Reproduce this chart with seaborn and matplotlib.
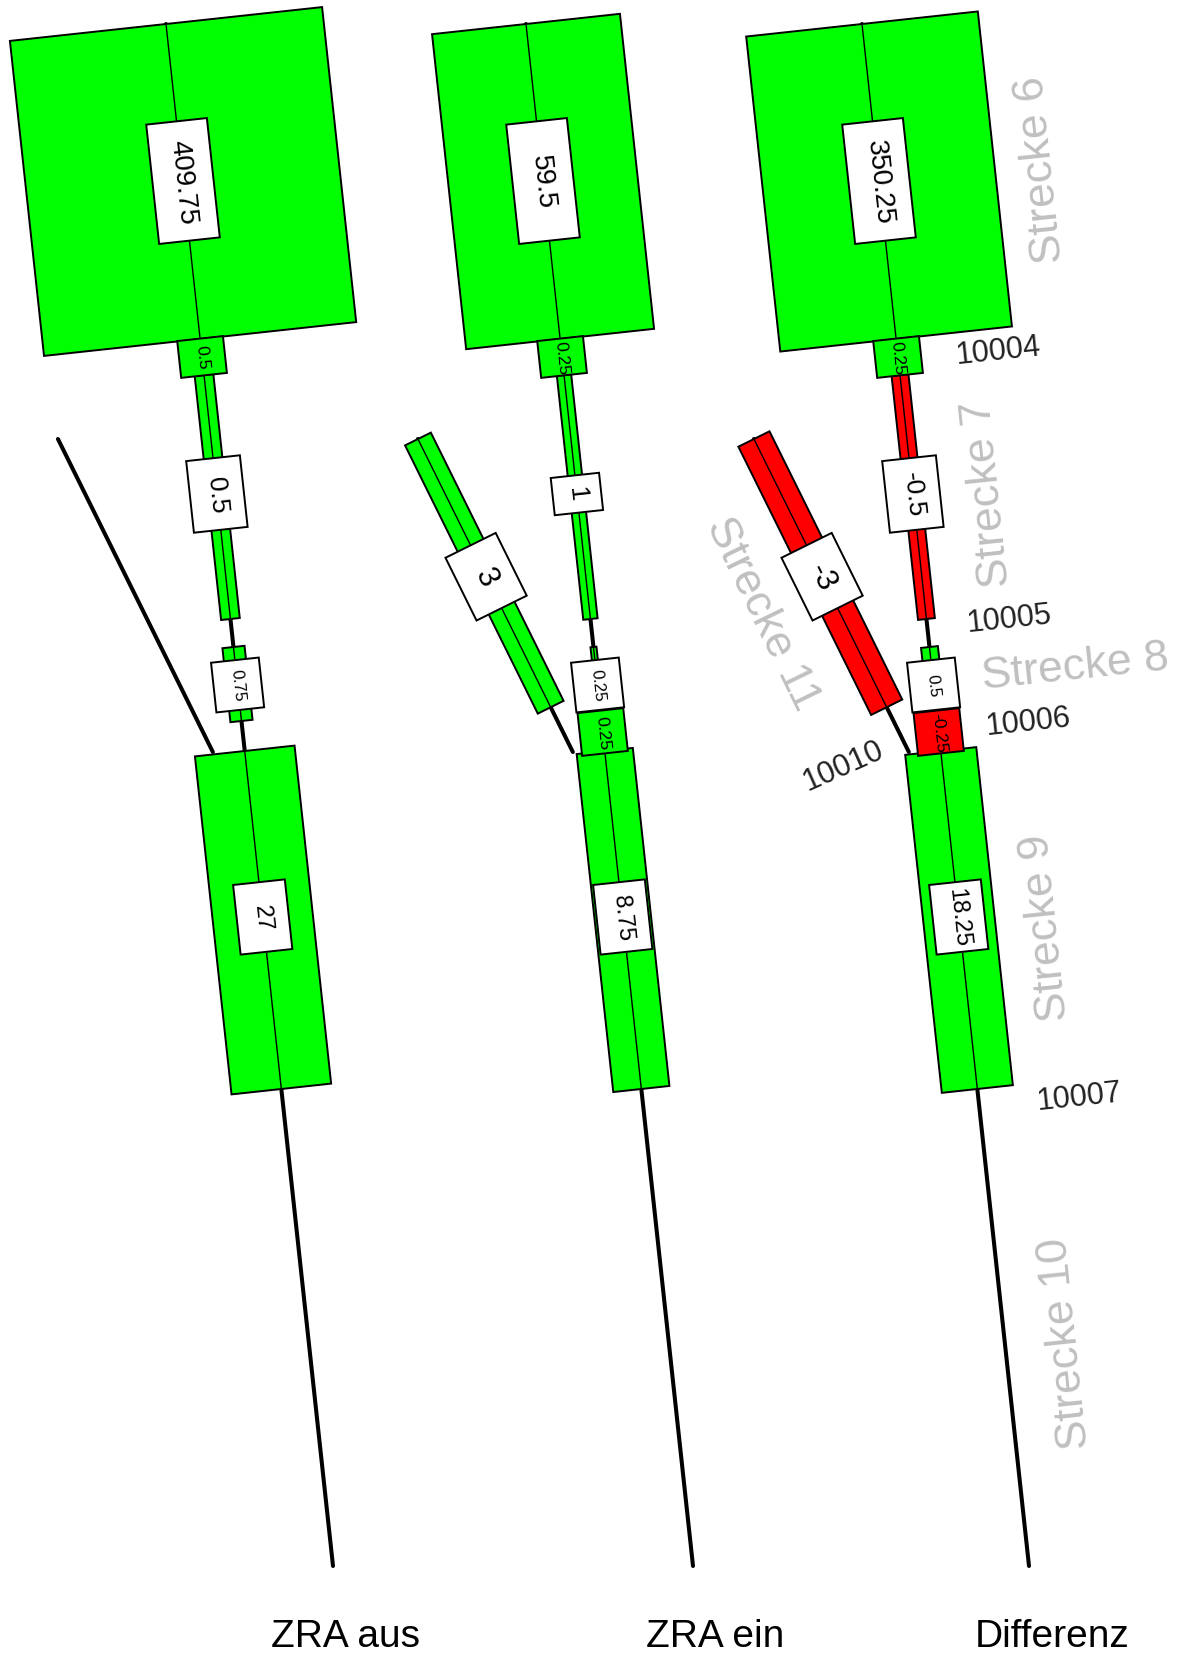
import numpy as np
import matplotlib
matplotlib.use("Agg")
import matplotlib.pyplot as plt
import seaborn as sns
import pandas as pd
from matplotlib.patches import Polygon

# ---------------- data ----------------
PANELS = ["ZRA aus", "ZRA ein", "Differenz"]
LINKS = ["Strecke 6", "Strecke 7", "Strecke 8", "Strecke 9", "Strecke 10", "Strecke 11"]
LINK_AUS = [409.75, 0.5, 0.75, 27, 0, 0]
LINK_EIN = [59.5, 1, 0.25, 8.75, 0, 3]
LINK_DIFF = [350.25, -0.5, 0.5, 18.25, 0, -3]
NODE_IDS = ["10004", "10006"]
NODE_AUS = [0.5, 0]
NODE_EIN = [0.25, 0.25]
NODE_DIFF = [0.25, -0.25]
NODE_NAMES = ["10004", "10005", "10006", "10007", "10010"]

LINK_VALUES = [LINK_AUS, LINK_EIN, LINK_DIFF]
NODE_VALUES = [NODE_AUS, NODE_EIN, NODE_DIFF]

# ---------------- layout / style ----------------
W, H = 1180, 1658
PANEL_X0 = [166, 526, 862]
MAIN_DX = 167
MAIN_Y0, MAIN_Y1 = 25, 1567
TITLE_X = [345, 715, 1052]
WIDTH_REF = [314, 189, 233]
WIDTH_EXP = [0.42, 0.63, 0.40]
GREEN, RED = "#00ff00", "#ff0000"
GREY = "#c0c0c0"

LINK_GEOM = {
    "Strecke 6": dict(kind="main", span=(25, 340), label=182, box=(61, 120), fs=20),
    "Strecke 7": dict(kind="main", span=(376, 620), label=495, box=(54, 72), fs=19),
    "Strecke 8": dict(kind="main", span=(648, 722), label=686, box=(48, 50), fs=12),
    "Strecke 9": dict(kind="main", span=(752, 1090), label=918, box=(52, 70), fs=17),
    "Strecke 10": dict(kind="main", span=(1090, 1567), label=1330, box=(52, 70), fs=17),
    "Strecke 11": dict(kind="ramp", span=(0.0, 0.857), label=0.44, box=(56, 70), fs=22),
}
NODE_GEOM = {"10004": dict(y=358, box=(46, 37)), "10006": dict(y=733, box=(46, 43))}

STRECKE_TEXT = [("Strecke 6", 1041, 170, 96), ("Strecke 7", 988, 494, 96),
                ("Strecke 8", 1075, 668, 6), ("Strecke 9", 1046, 928, 96),
                ("Strecke 10", 1065, 1343, 96), ("Strecke 11", 762, 614, -64)]
NODE_TEXT_POS = [(998, 352, 6), (1009, 620, 6), (1028, 723, 6), (1079, 1098, 6), (843, 766, 24)]

sns.set_theme(style="white")
plt.rcParams["font.family"] = ["Liberation Sans", "DejaVu Sans"]

fig = plt.figure(figsize=(W / 100, H / 100), dpi=100)
ax = fig.add_axes([0, 0, 1, 1])


def main_pt(p, y):
    return np.array([PANEL_X0[p] + MAIN_DX * (y - MAIN_Y0) / (MAIN_Y1 - MAIN_Y0), y], float)


def ramp_ends(p):
    a = main_pt(p, 440) + np.array([-153, 0])
    b = main_pt(p, 753) + np.array([-32, 0])
    return a, b


def frame(p0, p1):
    d = p1 - p0
    u = d / np.hypot(*d)
    n = np.array([-u[1], u[0]])
    ang = np.degrees(np.arctan2(-u[1], u[0]))
    return u, n, ang


def strip(p0, p1, w, color, z=2):
    u, n, _ = frame(p0, p1)
    pts = [p0 + n * w / 2, p1 + n * w / 2, p1 - n * w / 2, p0 - n * w / 2]
    ax.add_patch(Polygon(pts, closed=True, facecolor=color, edgecolor="black",
                         lw=1.4, zorder=z, joinstyle="miter"))
    ax.plot([p0[0], p1[0]], [p0[1], p1[1]], color="black", lw=1.0, zorder=z + 0.1)


def box_at(c, u, n, w, l, color, z):
    pts = [c - u * l / 2 - n * w / 2, c + u * l / 2 - n * w / 2,
           c + u * l / 2 + n * w / 2, c - u * l / 2 + n * w / 2]
    ax.add_patch(Polygon(pts, closed=True, facecolor=color, edgecolor="black",
                         lw=1.4, zorder=z))


def fmt(v):
    return f"{v:g}"


# road centre lines via seaborn
rows = []
for p in range(3):
    a, b = main_pt(p, MAIN_Y0), main_pt(p, MAIN_Y1)
    rows += [dict(road=f"m{p}", x=a[0], y=a[1]), dict(road=f"m{p}", x=b[0], y=b[1])]
    ra, rb = ramp_ends(p)
    rows += [dict(road=f"r{p}", x=ra[0], y=ra[1]), dict(road=f"r{p}", x=rb[0], y=rb[1])]
roads = pd.DataFrame(rows)
sns.lineplot(data=roads, x="x", y="y", units="road", estimator=None, sort=False,
             color="black", lw=2.9, ax=ax, legend=False, zorder=1)

for p in range(3):
    vals = LINK_VALUES[p]
    vmax = max(abs(v) for v in vals)

    def bw(v):
        return WIDTH_REF[p] * (abs(v) / vmax) ** WIDTH_EXP[p]

    for name, v in zip(LINKS, vals):
        g = LINK_GEOM[name]
        if v == 0:
            continue
        color = GREEN if v > 0 else RED
        if g["kind"] == "main":
            p0, p1 = main_pt(p, g["span"][0]), main_pt(p, g["span"][1])
            c = main_pt(p, g["label"])
            ref0, ref1 = main_pt(p, MAIN_Y0), main_pt(p, MAIN_Y1)
        else:
            ra, rb = ramp_ends(p)
            p0 = ra + (rb - ra) * g["span"][0]
            p1 = ra + (rb - ra) * g["span"][1]
            c = ra + (rb - ra) * g["label"]
            ref0, ref1 = ra, rb
        strip(p0, p1, bw(v), color, z=2)
        u, n, ang = frame(ref0, ref1)
        bwid, blen = g["box"]
        txt = fmt(v)
        if len(txt) == 1 and g["kind"] == "main":
            bwid, blen = bwid * 0.9, blen * 0.52
        box_at(c, u, n, bwid, blen, "white", z=5)
        ax.text(c[0], c[1], txt, rotation=ang, rotation_mode="anchor", ha="center",
                va="center", fontsize=g["fs"], color="black", zorder=6)

    # node boxes
    for nid, v in zip(NODE_IDS, NODE_VALUES[p]):
        if v == 0:
            continue
        g = NODE_GEOM[nid]
        c = main_pt(p, g["y"])
        u, n, ang = frame(main_pt(p, MAIN_Y0), main_pt(p, MAIN_Y1))
        box_at(c, u, n, g["box"][0], g["box"][1], GREEN if v > 0 else RED, z=4)
        ax.text(c[0], c[1], fmt(v), rotation=ang, rotation_mode="anchor", ha="center",
                va="center", fontsize=12.5, color="black", zorder=6)

    ax.text(TITLE_X[p], 1637, PANELS[p], ha="center", va="center", fontsize=28, color="black")

for s, x, y, r in STRECKE_TEXT:
    ax.text(x, y, s, rotation=r, rotation_mode="anchor", ha="center", va="center",
            fontsize=32, color=GREY, zorder=7)
for s, (x, y, r) in zip(NODE_NAMES, NODE_TEXT_POS):
    ax.text(x, y, s, rotation=r, rotation_mode="anchor", ha="center", va="center",
            fontsize=22, color="#222222", zorder=7)

ax.set_xlim(0, W)
ax.set_ylim(H, 0)
ax.set_aspect("equal")
ax.axis("off")
fig.savefig("out.png", dpi=100, facecolor="white")
